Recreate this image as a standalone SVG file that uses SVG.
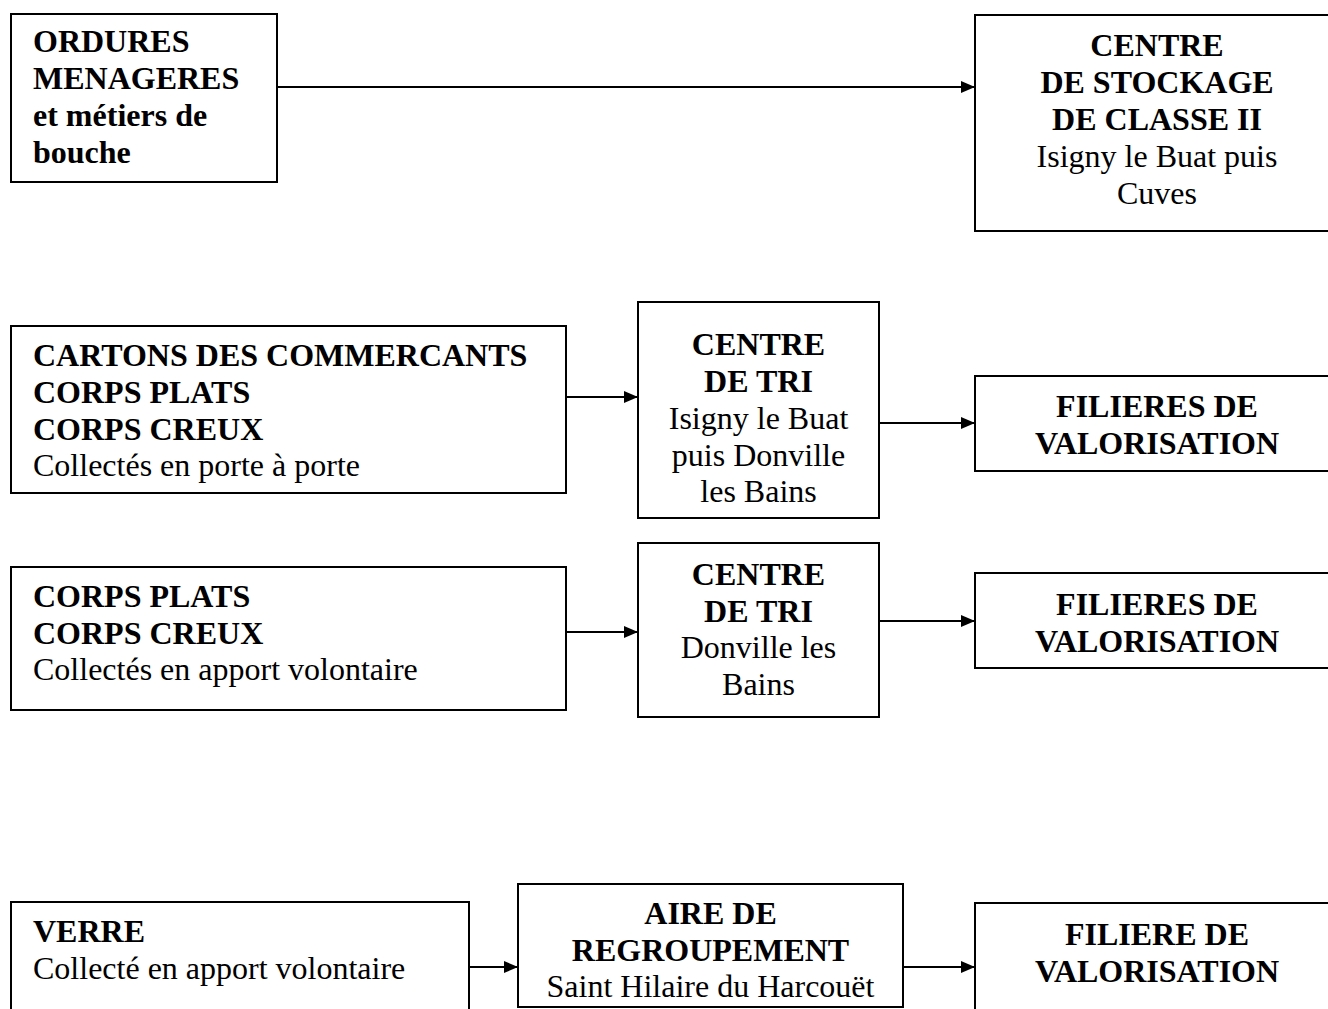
<svg xmlns="http://www.w3.org/2000/svg" width="1328" height="1009" viewBox="0 0 1328 1009">
<defs>
<style>
.box{fill:#fff;stroke:#000;stroke-width:2}
text{font-family:"Liberation Serif","Times New Roman",serif;font-size:32px;fill:#000}
.b{font-weight:bold}
.c{text-anchor:middle}
.line{stroke:#000;stroke-width:1.8;fill:none;marker-end:url(#ah)}
</style>
<marker id="ah" markerWidth="14" markerHeight="12" refX="14" refY="6" orient="auto" markerUnits="userSpaceOnUse">
<path d="M0,0 L14,6 L0,12 Z" fill="#000"/>
</marker>
</defs>
<rect width="1328" height="1009" fill="#fff"/>
<g id="connectors">
<line class="line" x1="277" y1="87" x2="975" y2="87"/>
<line class="line" x1="566" y1="397" x2="638" y2="397"/>
<line class="line" x1="879" y1="423" x2="975" y2="423"/>
<line class="line" x1="566" y1="632" x2="638" y2="632"/>
<line class="line" x1="879" y1="621" x2="975" y2="621"/>
<line class="line" x1="469" y1="967" x2="518" y2="967"/>
<line class="line" x1="903" y1="967" x2="975" y2="967"/>
</g>
<g id="ordures">
<rect class="box" x="11" y="14" width="266" height="168"/>
<text class="b" x="33" y="52">ORDURES</text>
<text class="b" x="33" y="89">MENAGERES</text>
<text class="b" x="33" y="126">et métiers de</text>
<text class="b" x="33" y="163">bouche</text>
</g>
<g id="stockage">
<rect class="box" x="975" y="15" width="366" height="216"/>
<text class="b c" x="1157" y="56">CENTRE</text>
<text class="b c" x="1157" y="93">DE STOCKAGE</text>
<text class="b c" x="1157" y="130">DE CLASSE II</text>
<text class="c" x="1157" y="167">Isigny le Buat puis</text>
<text class="c" x="1157" y="204">Cuves</text>
</g>
<g id="cartons">
<rect class="box" x="11" y="326" width="555" height="167"/>
<text class="b" x="33" y="366">CARTONS DES COMMERCANTS</text>
<text class="b" x="33" y="403">CORPS PLATS</text>
<text class="b" x="33" y="440">CORPS CREUX</text>
<text x="33" y="476">Collectés en porte à porte</text>
</g>
<g id="tri1">
<rect class="box" x="638" y="302" width="241" height="216"/>
<text class="c b" x="758.5" y="355">CENTRE</text>
<text class="c b" x="758.5" y="392">DE TRI</text>
<text class="c" x="758.5" y="429">Isigny le Buat</text>
<text class="c" x="758.5" y="466">puis Donville</text>
<text class="c" x="758.5" y="502">les Bains</text>
</g>
<g id="filieres1">
<rect class="box" x="975" y="376" width="366" height="95"/>
<text class="c b" x="1157" y="417">FILIERES DE</text>
<text class="c b" x="1157" y="454">VALORISATION</text>
</g>
<g id="corps">
<rect class="box" x="11" y="567" width="555" height="143"/>
<text class="b" x="33" y="607">CORPS PLATS</text>
<text class="b" x="33" y="644">CORPS CREUX</text>
<text x="33" y="680">Collectés en apport volontaire</text>
</g>
<g id="tri2">
<rect class="box" x="638" y="543" width="241" height="174"/>
<text class="c b" x="758.5" y="585">CENTRE</text>
<text class="c b" x="758.5" y="622">DE TRI</text>
<text class="c" x="758.5" y="658">Donville les</text>
<text class="c" x="758.5" y="695">Bains</text>
</g>
<g id="filieres2">
<rect class="box" x="975" y="573" width="366" height="95"/>
<text class="c b" x="1157" y="615">FILIERES DE</text>
<text class="c b" x="1157" y="652">VALORISATION</text>
</g>
<g id="verre">
<rect class="box" x="11" y="902" width="458" height="130"/>
<text class="b" x="33" y="942">VERRE</text>
<text x="33" y="979">Collecté en apport volontaire</text>
</g>
<g id="aire">
<rect class="box" x="518" y="884" width="385" height="123"/>
<text class="c b" x="710.5" y="924">AIRE DE</text>
<text class="c b" x="710.5" y="961">REGROUPEMENT</text>
<text class="c" x="710.5" y="997">Saint Hilaire du Harcouët</text>
</g>
<g id="filiere3">
<rect class="box" x="975" y="903" width="366" height="130"/>
<text class="c b" x="1157" y="945">FILIERE DE</text>
<text class="c b" x="1157" y="982">VALORISATION</text>
</g>
</svg>
